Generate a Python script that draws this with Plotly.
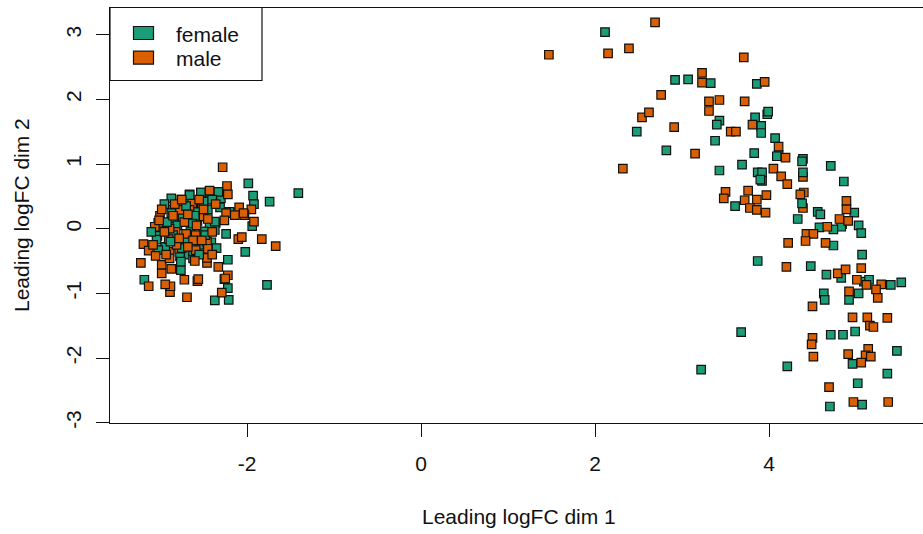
import plotly.graph_objects as go

# ---------------- data ----------------
groups = ["female", "male"]
group_colors = ["#1B9E77", "#D95F02"]

female_x = [2.115, 2.92, 3.07, 3.33, 3.86, 3.43, 3.40, 3.98, 3.99, 3.84, 3.91, 3.91, 2.48, 4.07, 4.11, 4.09,
            3.38, 2.82, 3.83, 3.69, 3.43, 3.87, 3.92, 3.92, 3.90, 4.39, 4.38, 4.39, 4.71, 4.86, 4.38, 3.61,
            4.33, 4.56, 4.59, 4.98, 4.84, 4.83, 5.03, 5.06, 4.58, 4.74, 4.74, 5.07, 3.87, 4.48, 4.66, 4.83,
            5.09, 5.15, 5.40, 5.52, 5.03, 4.92, 4.63, 4.64, 4.71, 4.85, 4.99, 3.68, 5.47, 4.96, 4.21, 3.22,
            5.36, 5.02, 5.07, 4.70,
            -1.985, -1.41, -1.74, -1.93, -1.92, -1.94, -2.24, -2.02, -1.77, -2.22, -2.26, -2.22, -2.37, -2.21,
            -3.18, -2.76, -2.67, -2.77, -2.36, -2.37, -2.13, -2.20, -2.30, -2.31, -2.43, -2.755, -2.87, -2.68,
            -2.57, -2.86, -2.74, -2.84, -2.87, -2.57, -2.43, -2.37, -2.98, -3.03, -2.50, -2.54, -2.41, -2.97,
            -2.94, -2.76, -2.62, -3.02, -3.04, -2.66, -2.53, -2.33,
            -2.80, -2.65, -2.55, -2.70, -2.85, -2.60, -2.45, -2.75, -2.92, -2.50, -2.62, -2.35, -2.88, -2.70,
            -2.40, -2.95, -2.55, -3.10, -2.63, -2.48]
female_y = [3.04, 2.30, 2.31, 2.25, 2.24, 1.67, 1.61, 1.77, 1.81, 1.72, 1.59, 1.48, 1.50, 1.40, 1.14, 1.12,
            1.36, 1.21, 1.17, 0.99, 0.90, 0.87, 0.87, 0.74, 0.76, 1.08, 1.04, 0.87, 0.97, 0.73, 0.39, 0.35,
            0.15, 0.26, 0.22, 0.25, 0.07, 0.03, 0.05, -0.07, 0.02, -0.01, -0.26, -0.40, -0.50, -0.58, -0.71, -0.76,
            -0.82, -0.79, -0.87, -0.83, -1.00, -1.10, -1.00, -1.10, -1.64, -1.64, -1.59, -1.60, -1.89, -2.09, -2.13, -2.18,
            -2.24, -2.39, -2.72, -2.75,
            0.70, 0.55, 0.42, 0.51, 0.38, 0.04, -0.08, -0.36, -0.87, -0.48, -0.78, -0.92, -1.11, -1.10,
            -0.79, -0.64, -0.40, -0.43, 0.09, -0.02, 0.25, 0.26, 0.47, 0.33, 0.57, 0.45, 0.47, 0.39,
            0.26, 0.30, 0.17, 0.16, 0.24, 0.12, 0.08, 0.11, -0.02, -0.11, -0.04, -0.13, -0.21, -0.33,
            -0.28, -0.51, -0.46, -0.33, -0.17, 0.52, 0.56, 0.57,
            0.05, 0.00, -0.25, -0.20, -0.10, 0.20, 0.30, -0.30, 0.10, 0.42, -0.35, -0.30, -0.20, 0.35,
            0.45, 0.38, -0.40, -0.05, 0.08, -0.10]

male_x = [2.69, 1.47, 2.15, 2.39, 3.71, 3.23, 3.23, 3.95, 2.76, 3.31, 3.43, 3.72, 3.31, 2.54, 2.62, 2.91,
          3.81, 3.56, 3.62, 4.11, 3.15, 2.32, 4.05, 4.19, 4.14, 4.21, 4.39, 4.40, 4.36, 4.39, 3.50, 3.48,
          3.76, 3.72, 3.86, 3.97, 3.78, 3.86, 3.96, 4.89, 4.89, 4.81, 4.91, 4.67, 4.43, 4.51, 4.42, 4.22,
          4.65, 4.20, 5.06, 4.79, 4.88, 5.01, 5.12, 5.29, 5.23, 5.25, 4.92, 4.50, 4.96, 5.13, 5.36, 5.16,
          5.20, 4.50, 4.49, 4.51, 4.91, 5.14, 5.11, 5.17, 5.06, 4.69, 4.97, 5.37,
          -2.28, -1.95, -1.92, -1.83, -1.67, -2.10, -2.06, -2.22, -2.25, -2.29, -2.69, -2.57, -2.56, -2.72,
          -2.885, -2.88, -2.94, -3.13, -3.22, -2.87, -2.98, -2.98, -3.19, -3.13, -2.33, -2.46, -2.46, -2.78,
          -2.89, -2.24, -2.26, -2.09, -2.03, -2.23, -2.22, -2.53, -2.66, -2.52, -2.63, -2.77, -2.66, -3.00,
          -3.02, -2.50, -2.45, -2.82, -2.89, -2.59, -2.70, -2.46, -2.45, -2.90, -2.81, -2.89, -2.59, -3.08,
          -3.06, -3.01, -2.43, -2.04, -2.14,
          -2.72, -2.58, -2.78, -2.62, -2.95, -2.50, -2.83, -2.68, -2.40, -2.93, -2.55, -2.36, -2.75, -3.05,
          -2.40, -2.85, -2.60, -2.98, -2.68, -2.52]
male_y = [3.19, 2.69, 2.71, 2.79, 2.65, 2.41, 2.26, 2.27, 2.07, 1.97, 1.99, 1.97, 1.82, 1.72, 1.80, 1.57,
          1.61, 1.50, 1.50, 1.27, 1.16, 0.93, 0.93, 1.10, 0.81, 0.69, 0.80, 0.56, 0.53, 0.32, 0.57, 0.47,
          0.59, 0.44, 0.45, 0.52, 0.32, 0.29, 0.25, 0.43, 0.30, 0.15, 0.12, 0.03, -0.08, -0.08, -0.19, -0.22,
          -0.22, -0.59, -0.61, -0.69, -0.63, -0.79, -0.87, -0.86, -0.94, -1.07, -0.97, -1.20, -1.37, -1.37, -1.38, -1.50,
          -1.52, -1.69, -1.79, -1.98, -1.94, -1.86, -1.96, -1.98, -2.07, -2.45, -2.68, -2.68,
          0.95, 0.30, 0.11, -0.16, -0.27, -0.16, -0.13, -0.72, -0.77, -0.99, -1.06, -0.81, -0.78, -0.79,
          -0.98, -0.89, -0.86, -0.89, -0.53, -0.62, -0.56, -0.69, -0.24, -0.34, -0.59, -0.53, -0.45, -0.31,
          -0.36, 0.24, 0.13, 0.33, 0.21, 0.66, 0.53, 0.56, 0.53, 0.39, 0.39, 0.29, 0.29, 0.20,
          0.09, 0.19, 0.15, -0.05, 0.00, -0.10, -0.08, -0.20, -0.31, -0.16, -0.25, -0.46, -0.33, -0.25,
          0.03, 0.13, 0.59, 0.24, 0.21,
          0.10, 0.05, -0.15, -0.18, -0.05, 0.30, 0.38, -0.28, -0.05, -0.40, 0.45, 0.38, 0.45, -0.42,
          -0.40, 0.20, -0.50, 0.30, 0.22, -0.18]

x_ticks = [-2, 0, 2, 4]
x_tick_labels = ["-2", "0", "2", "4"]
y_ticks = [-3, -2, -1, 0, 1, 2, 3]
y_tick_labels = ["-3", "-2", "-1", "0", "1", "2", "3"]
x_title = "Leading logFC dim 1"
y_title = "Leading logFC dim 2"

# ---------------- layout geometry ----------------
W, H = 923, 534
ML, MR, MT, MB = 110, 0, 8, 111
PW, PH = W - ML - MR, H - MT - MB
FONT = "Arial, Liberation Sans, sans-serif"
FS = 21


def px2x(px):
    return (px - ML) / PW


def py2y(py):
    return (H - MB - py) / PH


# interleave the two groups so the drawing order mixes colours
series = [(female_x, female_y, group_colors[0]), (male_x, male_y, group_colors[1])]
ax, ay, ac = [], [], []
n = max(len(s[0]) for s in series)
for i in range(n):
    for xs, ys, col in series:
        if i < len(xs):
            ax.append(xs[i]); ay.append(ys[i]); ac.append(col)

fig = go.Figure()
fig.add_trace(go.Scatter(
    x=ax, y=ay, mode="markers", showlegend=False,
    marker=dict(symbol="square", size=8.5, color=ac, line=dict(color="#111111", width=1.2)),
))

fig.update_layout(
    width=W, height=H,
    margin=dict(l=ML, r=MR, t=MT, b=MB, pad=0),
    paper_bgcolor="white", plot_bgcolor="white",
    font=dict(family=FONT, size=FS, color="#111111"),
    showlegend=False,
    xaxis=dict(range=[-3.5747, 5.770], tickvals=x_ticks, ticktext=x_tick_labels,
               ticks="outside", ticklen=13, tickwidth=1.2, tickcolor="#111111",
               showline=True, linecolor="#111111", linewidth=1.2, mirror=True,
               showgrid=False, zeroline=False, ticklabelstandoff=9,
               tickfont=dict(family=FONT, size=FS, color="#111111")),
    yaxis=dict(range=[-3.005, 3.413], tickvals=y_ticks, ticktext=y_tick_labels,
               ticks="outside", ticklen=13, tickwidth=1.2, tickcolor="#111111",
               showline=True, linecolor="#111111", linewidth=1.2, mirror=False,
               showgrid=False, zeroline=False, tickangle=-90, ticklabelstandoff=7,
               tickfont=dict(family=FONT, size=FS, color="#111111")),
)

annotations = [
    dict(text=x_title, xref="paper", yref="paper", x=px2x(519), y=py2y(516),
         xanchor="center", yanchor="middle", showarrow=False,
         font=dict(family=FONT, size=FS, color="#111111")),
    dict(text=y_title, xref="paper", yref="paper", x=px2x(22), y=py2y(215),
         xanchor="center", yanchor="middle", textangle=-90, showarrow=False,
         font=dict(family=FONT, size=FS, color="#111111")),
]

# legend drawn as box + filled rectangles + labels
shapes = [dict(type="rect", xref="paper", yref="paper",
               x0=px2x(110), x1=px2x(262), y0=py2y(80.5), y1=py2y(7.5),
               line=dict(color="#111111", width=1.2), fillcolor="white", layer="above")]
for i, (g, col) in enumerate(zip(groups, group_colors)):
    top = 26.5 + 24.7 * i
    shapes.append(dict(type="rect", xref="paper", yref="paper",
                       x0=px2x(133.5), x1=px2x(153.5), y0=py2y(top + 13), y1=py2y(top),
                       line=dict(color="#111111", width=1.2), fillcolor=col, layer="above"))
    annotations.append(dict(text=g, xref="paper", yref="paper", x=px2x(174), y=py2y(top + 7.5),
                            xanchor="left", yanchor="middle", showarrow=False,
                            font=dict(family=FONT, size=FS, color="#111111")))

fig.update_layout(shapes=shapes, annotations=annotations)
fig.write_html("out.html")
